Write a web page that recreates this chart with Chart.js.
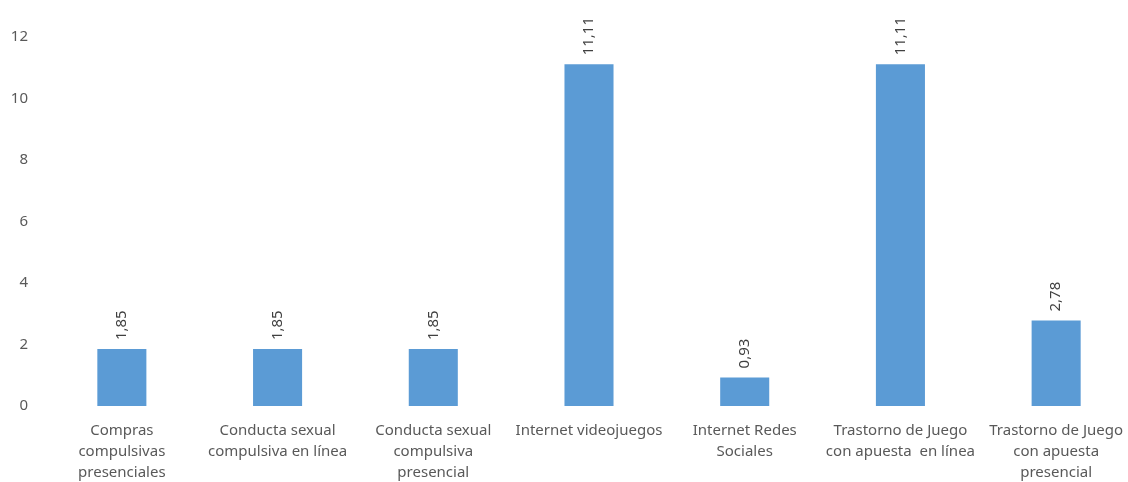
<!DOCTYPE html>
<html>
<head>
<meta charset="utf-8">
<script src="https://cdn.jsdelivr.net/npm/chart.js@4"></script>
<style>
  html, body { margin: 0; padding: 0; background: #fff; overflow: hidden; }
  #wrap { position: relative; width: 1140px; height: 482px; }
</style>
</head>
<body>
<div id="wrap"><canvas id="chart"></canvas></div>
<script>
// Chart data
const categories = [
    ['Compras', 'compulsivas', 'presenciales'],
    ['Conducta sexual', 'compulsiva en línea'],
    ['Conducta sexual', 'compulsiva', 'presencial'],
    'Internet videojuegos',
    ['Internet Redes', 'Sociales'],
    ['Trastorno de Juego', 'con apuesta  en línea'],
    ['Trastorno de Juego', 'con apuesta', 'presencial']
];
const values = [1.85, 1.85, 1.85, 11.11, 0.93, 11.11, 2.78];
const yTicks = [0, 2, 4, 6, 8, 10, 12];

// Rotated value labels above each bar
const barLabels = {
    id: 'barLabels',
    afterDatasetsDraw(chart) {
        const ctx = chart.ctx;
        const meta = chart.getDatasetMeta(0);
        ctx.save();
        ctx.font = '15px "Noto Sans", sans-serif';
        ctx.fillStyle = '#404040';
        ctx.textAlign = 'left';
        ctx.textBaseline = 'middle';
        meta.data.forEach((bar, i) => {
            const txt = values[i].toFixed(2).replace('.', ',');
            ctx.save();
            ctx.translate(bar.x, bar.y - 9);
            ctx.rotate(-Math.PI / 2);
            ctx.fillText(txt, 0, 0);
            ctx.restore();
        });
        ctx.restore();
    }
};

new Chart(document.getElementById('chart'), {
    type: 'bar',
    data: {
        labels: categories,
        datasets: [{
            data: values,
            backgroundColor: '#5B9BD5',
            barPercentage: 0.315,
            categoryPercentage: 1
        }]
    },
    options: {
        responsive: true,
        maintainAspectRatio: false,
        animation: false,
        layout: { padding: { top: 37, right: 6, left: 0, bottom: 0 } },
        plugins: {
            legend: { display: false },
            tooltip: { enabled: false }
        },
        scales: {
            x: {
                grid: { display: false, drawTicks: false },
                border: { display: false },
                ticks: {
                    color: '#595959',
                    font: { family: '"Noto Sans", sans-serif', size: 15, lineHeight: 1.4 },
                    padding: 14,
                    maxRotation: 0,
                    autoSkip: false
                },
                afterFit(scale) { scale.height = 76; }
            },
            y: {
                min: 0,
                max: 12,
                afterBuildTicks(scale) { scale.ticks = yTicks.map(v => ({ value: v })); },
                grid: { display: false, drawTicks: false },
                border: { display: false },
                ticks: {
                    color: '#595959',
                    font: { family: '"Noto Sans", sans-serif', size: 15 },
                    padding: 16
                },
                afterFit(scale) { scale.width = 44; }
            }
        }
    },
    plugins: [barLabels]
});
</script>
</body>
</html>
